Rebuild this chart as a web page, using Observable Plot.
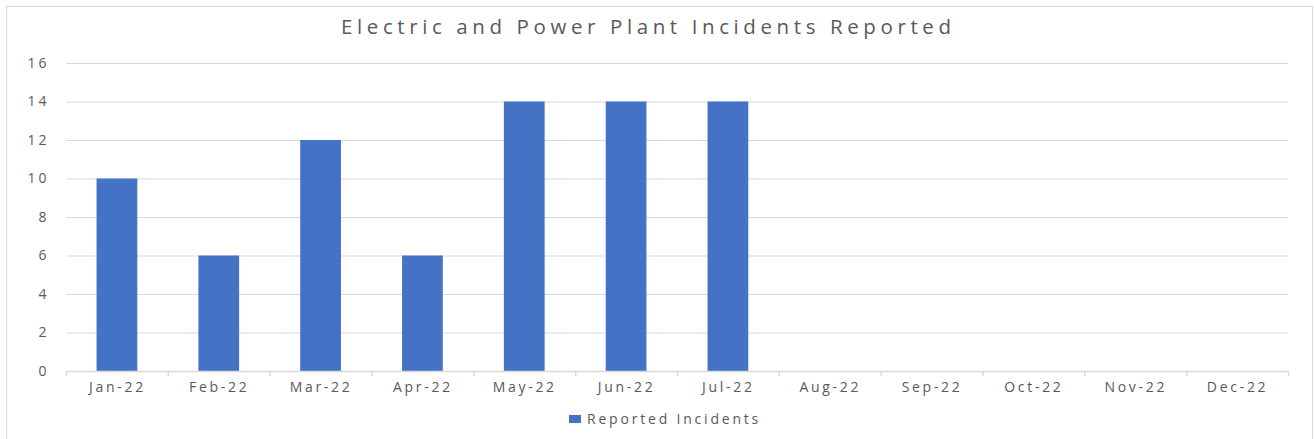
<!DOCTYPE html>
<html>
<head>
<meta charset="utf-8">
<script src="https://cdn.jsdelivr.net/npm/d3@7"></script>
<script src="https://cdn.jsdelivr.net/npm/@observablehq/plot@0.6"></script>
<style>
  html, body { margin: 0; padding: 0; background: #fff; }
  body { width: 1314px; height: 439px; position: relative; overflow: hidden; font-family: "Open Sans", sans-serif; }
  #frame { position: absolute; left: 6px; top: 6px; width: 1307px; height: 460px; border: 1.5px solid #d9d9d9; box-sizing: border-box; }
  #title { position: absolute; left: -11px; width: 1314px; top: 12px; text-align: center; font-size: 20.5px; color: #595959; letter-spacing: 4.6px; text-indent: 4.6px; }
  #chart { position: absolute; left: 0; top: 40px; }
  #legend { position: absolute; left: 569px; top: 409px; font-size: 14px; color: #595959; letter-spacing: 2.8px; display: flex; align-items: center; }
  #legend .sw { width: 12px; height: 8px; background: #4472C4; margin-right: 6px; }
  #chart g[aria-label="x-axis tick label"] text { letter-spacing: 2.7px; }
  #chart g[aria-label="y-axis tick label"] text { letter-spacing: 3px; }
</style>
</head>
<body>
<div id="frame"></div>
<div id="title">Electric and Power Plant Incidents Reported</div>
<div id="chart"></div>
<div id="legend"><span class="sw"></span><span>Reported Incidents</span></div>
<script>
const months = ["Jan-22","Feb-22","Mar-22","Apr-22","May-22","Jun-22","Jul-22","Aug-22","Sep-22","Oct-22","Nov-22","Dec-22"];
const incidents = [10, 6, 12, 6, 14, 14, 14, 0, 0, 0, 0, 0];
const yTicks = [0, 2, 4, 6, 8, 10, 12, 14, 16];
const seriesName = "Reported Incidents";

const data = months.map((m, i) => ({month: m, value: incidents[i]}));

const W = 1314, H = 360, mL = 66, mR = 26, mT = 23, mB = 29;
const step = (W - mL - mR) / months.length;
const grid = "#d9d9d9", text = "#595959", bar = "#4472C4";

const chart = Plot.plot({
  width: W, height: H,
  marginLeft: mL, marginRight: mR, marginTop: mT, marginBottom: mB,
  style: {fontFamily: "Open Sans, sans-serif", color: text, background: "transparent"},
  x: {domain: months, paddingInner: 0.6, paddingOuter: 0.3, round: false, label: null},
  y: {domain: [0, 16], ticks: yTicks, label: null},
  marks: [
    Plot.gridY(yTicks.filter(t => t > 0), {stroke: grid, strokeOpacity: 1, strokeWidth: 1.2}),
    Plot.barY(data, {x: "month", y: "value", fill: bar}),
    Plot.ruleY([0], {stroke: grid, strokeWidth: 1.5}),
    Plot.ruleX(months, {x: d => d, y1: 0, y2: 0, insetBottom: -5, dx: -step / 2, stroke: grid, strokeWidth: 1.5}),
    Plot.ruleX([months[months.length - 1]], {x: d => d, y1: 0, y2: 0, insetBottom: -5, dx: step / 2, stroke: grid, strokeWidth: 1.5}),
    Plot.axisY({ticks: yTicks, tickSize: 0, tickPadding: 17, fontSize: 14, fill: text, label: null}),
    Plot.axisX({tickSize: 0, tickPadding: 11, fontSize: 14, fill: text, label: null})
  ]
});
document.getElementById("chart").appendChild(chart);
</script>
</body>
</html>
